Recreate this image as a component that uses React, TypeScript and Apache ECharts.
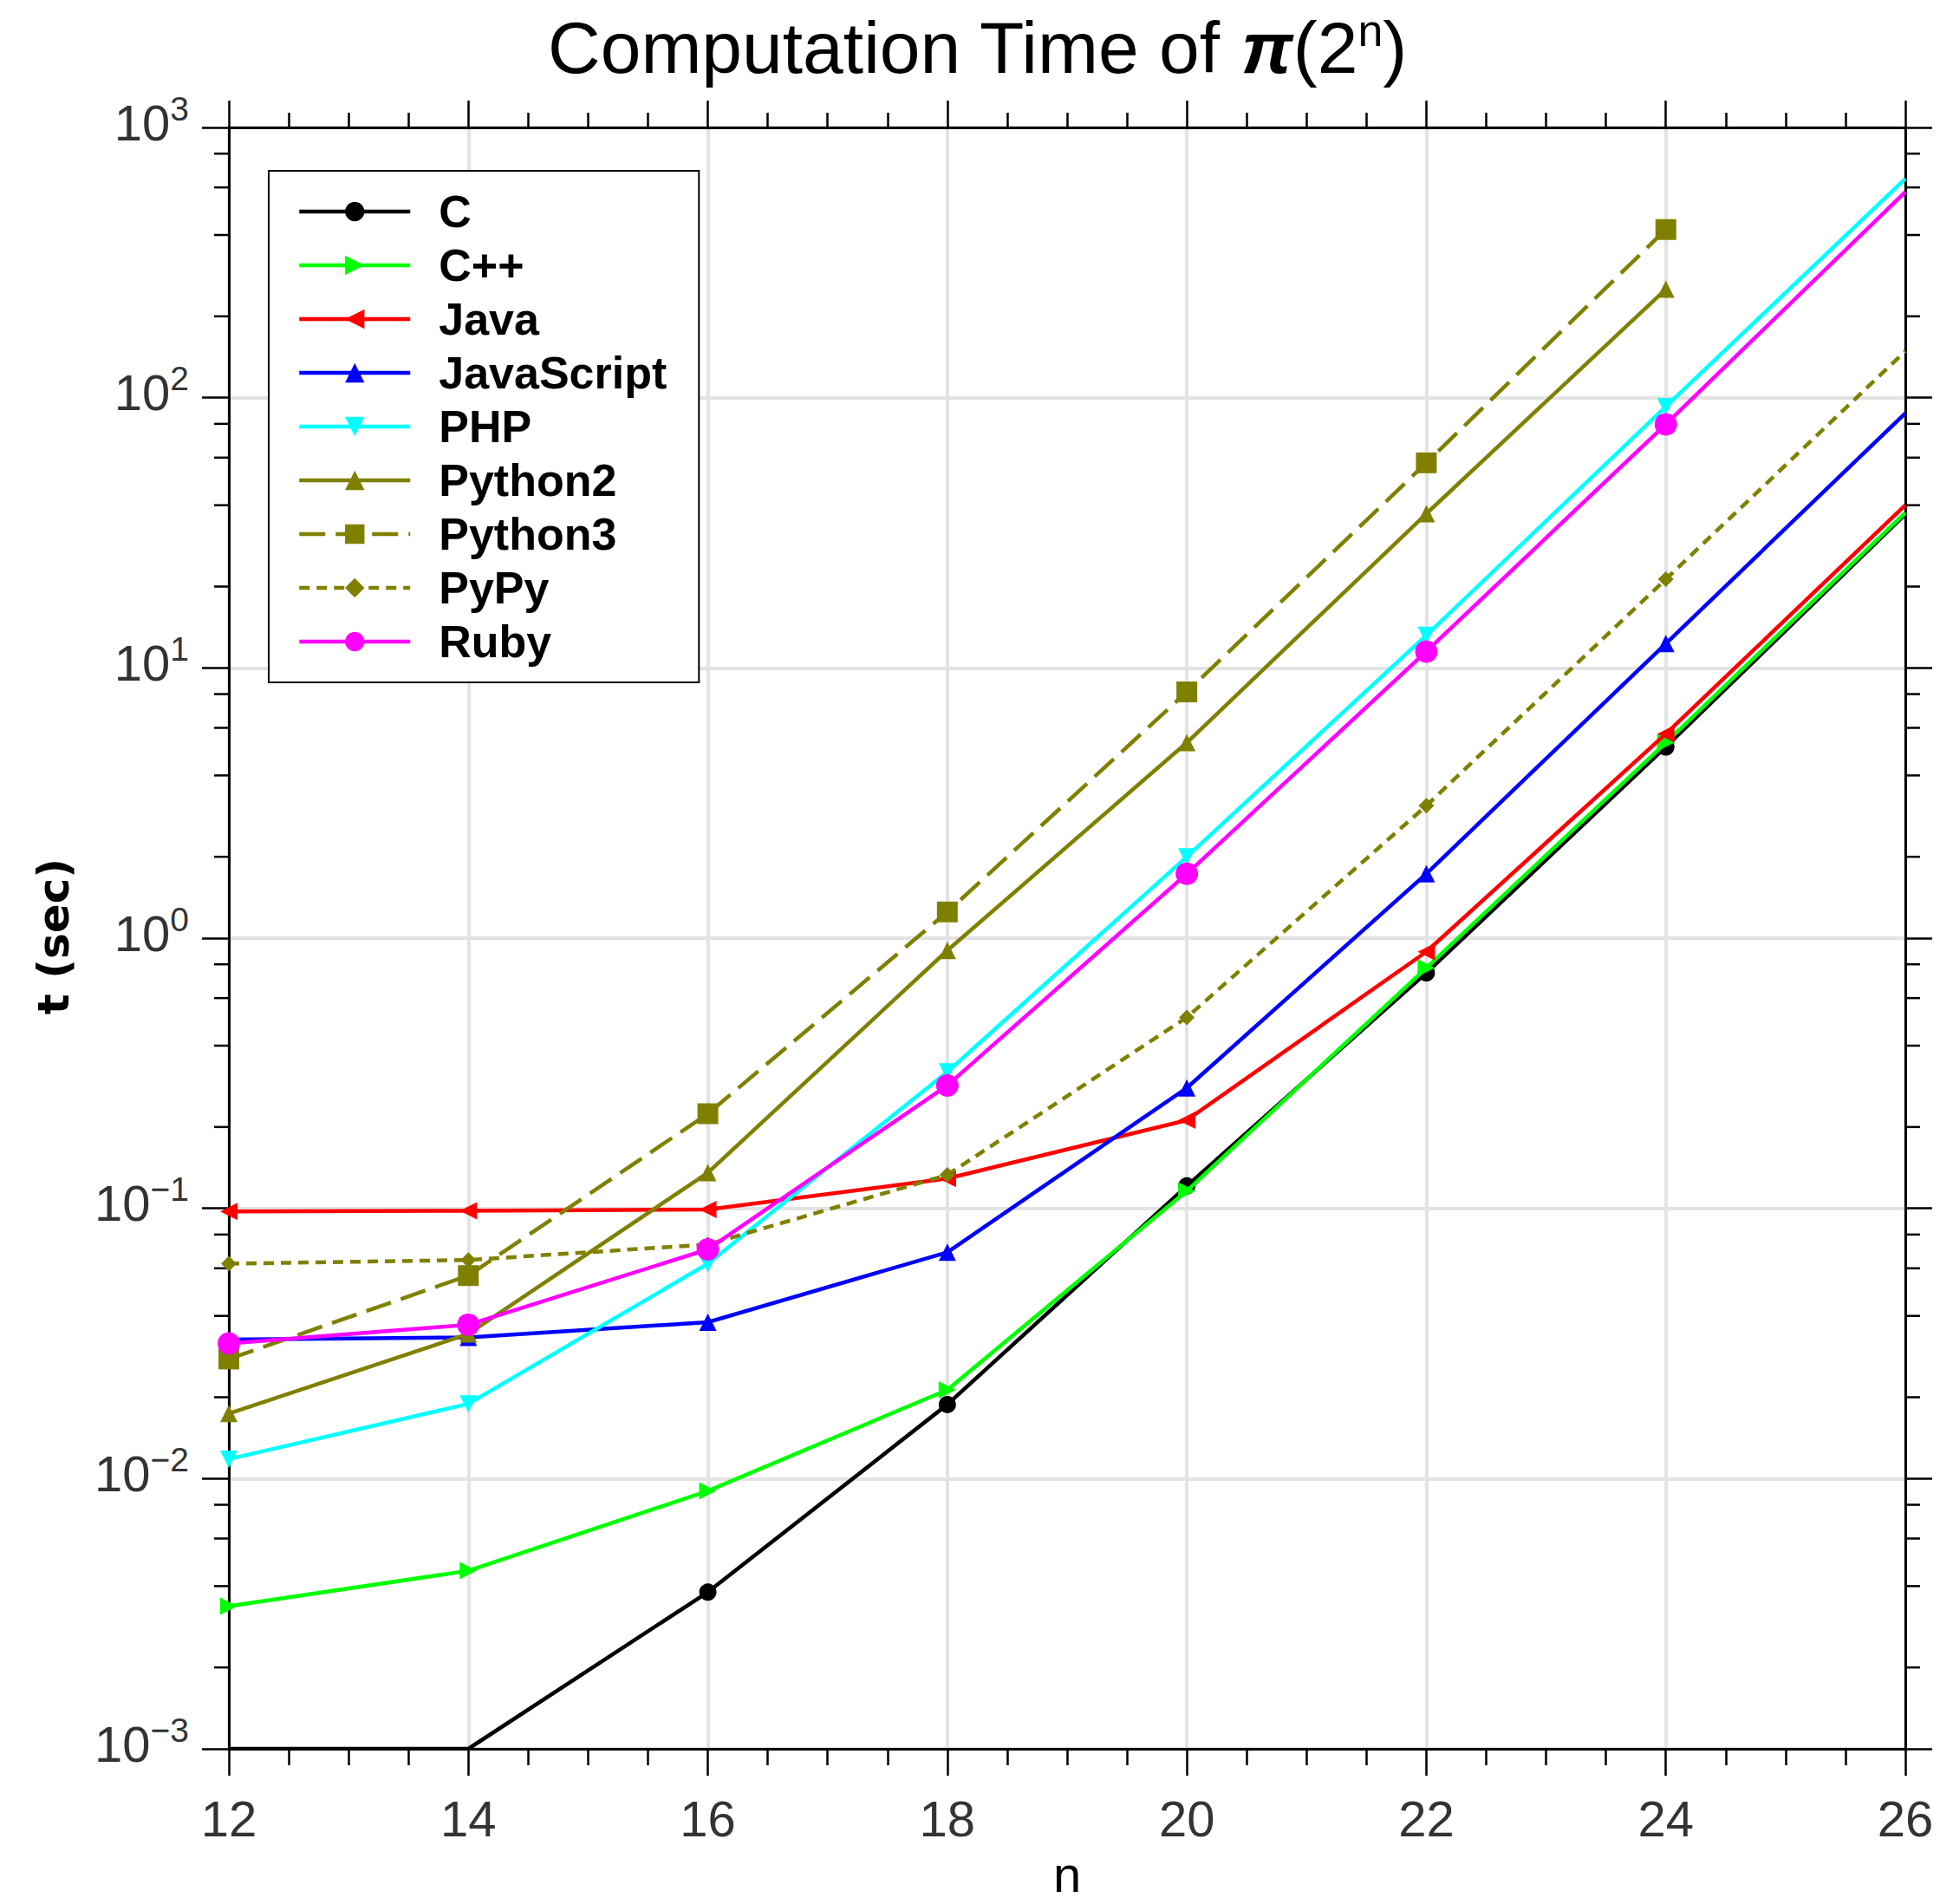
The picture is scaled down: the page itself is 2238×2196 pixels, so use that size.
import React, { useEffect, useRef } from "react";
import * as echarts from "echarts";

// ---------------- data ----------------
const nValues = [12, 14, 16, 18, 20, 22, 24, 26];

const cTimes = [0.001, 0.001, 0.0038, 0.0188, 0.121, 0.744, 5.1, 37];
const cppTimes = [0.00337, 0.00456, 0.009, 0.0213, 0.116, 0.776, 5.29, 37.5];
const javaTimes = [0.0974, 0.098, 0.099, 0.129, 0.212, 0.89, 5.7, 40];
const jsTimes = [0.0327, 0.0333, 0.0379, 0.0688, 0.279, 1.73, 12.3, 87.6];
const phpTimes = [0.0118, 0.0189, 0.0624, 0.32, 2.0, 13.2, 92.7, 646];
const python2Times = [0.0174, 0.0343, 0.1355, 0.9, 5.29, 37.2, 252, null];
const python3Times = [0.0277, 0.0564, 0.224, 1.25, 8.15, 57.4, 419, null];
const pypyTimes = [0.0624, 0.0644, 0.0735, 0.133, 0.509, 3.09, 21.3, 148.6];
const rubyTimes = [0.0316, 0.0371, 0.0705, 0.285, 1.73, 11.5, 79.7, 577];

const seriesNames = ["C", "C++", "Java", "JavaScript", "PHP", "Python2", "Python3", "PyPy", "Ruby"];

const xTickLabels = ["12", "14", "16", "18", "20", "22", "24", "26"];
const yDecadeExponents = [-3, -2, -1, 0, 1, 2, 3];
const yExponentLabels = ["−3", "−2", "−1", "0", "1", "2", "3"];
const yMinorMultipliers = [2, 4, 6, 8];

const titleText = "Computation Time of ";

// ---------------- styling ----------------
const NARROW = "'Liberation Sans Narrow', 'Liberation Sans', Arial, sans-serif";
const SANS = "'Liberation Sans', Arial, sans-serif";

const X_MIN = 12;
const X_MAX = 26;
const Y_MIN = 0.001;
const Y_MAX = 1000;

type Spec = {
  name: string;
  values: (number | null)[];
  color: string;
  symbol: string;
  size: number;
  rotate: number;
  dash: any;
  hideAt: number[];
};

const specs: Spec[] = [
  { name: "C", values: cTimes, color: "#000000", symbol: "circle", size: 20, rotate: 0, dash: "solid", hideAt: [12, 14, 26] },
  { name: "C++", values: cppTimes, color: "#00ff00", symbol: "triangle", size: 20, rotate: -90, dash: "solid", hideAt: [26] },
  { name: "Java", values: javaTimes, color: "#ff0000", symbol: "triangle", size: 20, rotate: 90, dash: "solid", hideAt: [26] },
  { name: "JavaScript", values: jsTimes, color: "#0000ff", symbol: "triangle", size: 20, rotate: 0, dash: "solid", hideAt: [26] },
  { name: "PHP", values: phpTimes, color: "#00ffff", symbol: "triangle", size: 20, rotate: 180, dash: "solid", hideAt: [26] },
  { name: "Python2", values: python2Times, color: "#808000", symbol: "triangle", size: 20, rotate: 0, dash: "solid", hideAt: [26] },
  { name: "Python3", values: python3Times, color: "#808000", symbol: "rect", size: 24, rotate: 0, dash: [30, 12], hideAt: [26] },
  { name: "PyPy", values: pypyTimes, color: "#808000", symbol: "diamond", size: 18, rotate: 0, dash: [12, 8], hideAt: [26] },
  { name: "Ruby", values: rubyTimes, color: "#ff00ff", symbol: "circle", size: 26, rotate: 0, dash: "solid", hideAt: [26] },
];

function buildLineSeries(s: Spec, idx: number) {
  const data: any[] = [];
  nValues.forEach((n, i) => {
    const v = s.values[i];
    if (v == null) return;
    if (s.hideAt.indexOf(n) >= 0) data.push({ value: [n, v], symbol: "none" });
    else data.push({ value: [n, v] });
  });
  return {
    type: "line",
    name: s.name,
    data,
    symbol: s.symbol,
    symbolSize: s.size,
    symbolRotate: s.rotate,
    showSymbol: true,
    showAllSymbol: true,
    clip: true,
    z: 3 + idx,
    lineStyle: { color: s.color, width: 4.5, type: s.dash },
    itemStyle: { color: s.color },
    emphasis: { disabled: true },
  };
}

const yMinorTicks: number[] = [];
yDecadeExponents.slice(0, -1).forEach((e) => {
  yMinorMultipliers.forEach((m) => yMinorTicks.push(m * Math.pow(10, e)));
});

export default function App() {
  const ref = useRef<HTMLDivElement>(null);

  useEffect(() => {
    document.body.style.margin = "0";
    document.body.style.overflow = "hidden";
    if (!ref.current) return;
    const chart = echarts.init(ref.current, null, { renderer: "svg" });

    const tickStyle = { color: "#000", width: 2.5 };

    const option: any = {
      animation: false,
      backgroundColor: "#ffffff",
      title: {
        left: 632,
        top: 9,
        padding: 0,
        text: "{a|" + titleText + "}{pi|π}{a|(2}{sup|n}{a|)}",
        textStyle: {
          fontSize: 84,
          fontWeight: "normal",
          fontFamily: SANS,
          color: "#000",
          rich: {
            a: { fontSize: 84, fontWeight: "normal", fontFamily: SANS, color: "#000" },
            pi: { fontSize: 84, fontFamily: SANS, fontStyle: "italic", fontWeight: "bold", color: "#000" },
            sup: { fontSize: 52, fontWeight: "normal", fontFamily: SANS, color: "#000", verticalAlign: "top", padding: [0, 0, 40, 0] },
          },
        },
      },
      grid: { left: 264, right: 40, top: 147, bottom: 179, containLabel: false },
      legend: {
        orient: "vertical",
        left: 310,
        top: 197,
        padding: [21, 37, 21, 33],
        itemGap: 10,
        itemWidth: 128,
        itemHeight: 28,
        borderColor: "#000",
        borderWidth: 2,
        backgroundColor: "#fff",
        selectedMode: false,
        data: seriesNames,
        lineStyle: { width: 4.5 },
        textStyle: { fontFamily: SANS, fontWeight: "bold", fontSize: 52, color: "#000", padding: [0, 0, 0, 28] },
        z: 20,
      },
      xAxis: [
        {
          type: "value",
          min: X_MIN,
          max: X_MAX,
          interval: 2,
          position: "bottom",
          axisLine: { show: true, onZero: false, lineStyle: { color: "#000", width: 3 } },
          axisTick: { show: true, length: 31, lineStyle: tickStyle },
          minorTick: { show: true, splitNumber: 4, length: 19, lineStyle: tickStyle },
          splitLine: { show: true, lineStyle: { color: "#e3e3e3", width: 4 } },
          axisLabel: {
            margin: 51,
            fontSize: 58,
            fontFamily: NARROW,
            color: "#333",
            formatter: (v: number) => xTickLabels[nValues.indexOf(v)] ?? String(v),
          },
        },
        {
          type: "value",
          min: X_MIN,
          max: X_MAX,
          interval: 2,
          position: "top",
          axisLine: { show: true, onZero: false, lineStyle: { color: "#000", width: 3 } },
          axisTick: { show: true, length: 31, lineStyle: tickStyle },
          minorTick: { show: true, splitNumber: 4, length: 17, lineStyle: tickStyle },
          splitLine: { show: false },
          axisLabel: { show: false },
        },
      ],
      yAxis: [
        {
          type: "log",
          logBase: 10,
          min: Y_MIN,
          max: Y_MAX,
          splitNumber: 6,
          position: "left",
          axisLine: { show: true, onZero: false, lineStyle: { color: "#000", width: 3 } },
          axisTick: { show: true, length: 31, lineStyle: tickStyle },
          splitLine: { show: true, lineStyle: { color: "#e3e3e3", width: 4 } },
          axisLabel: {
            margin: 46,
            formatter: (v: number) => {
              const e = Math.round(Math.log10(v));
              const idx = yDecadeExponents.indexOf(e);
              const lab = idx >= 0 ? yExponentLabels[idx] : String(e);
              return "{b|10}{s|" + lab + "}";
            },
            rich: {
              b: { fontSize: 58, fontFamily: NARROW, color: "#333", padding: [0, 0, 12, 0] },
              s: { fontSize: 39, fontFamily: NARROW, color: "#333", verticalAlign: "top", padding: [0, 0, 44, 0] },
            },
          },
        },
        {
          type: "log",
          logBase: 10,
          min: Y_MIN,
          max: Y_MAX,
          splitNumber: 6,
          position: "right",
          axisLine: { show: true, onZero: false, lineStyle: { color: "#000", width: 3 } },
          axisTick: { show: true, length: 31, lineStyle: tickStyle },
          splitLine: { show: false },
          axisLabel: { show: false },
        },
      ],
      graphic: [
        {
          type: "text",
          x: 62,
          y: 1080,
          rotation: Math.PI / 2,
          style: {
            text: "t (sec)",
            font: "bold 50px 'DejaVu Sans'",
            fill: "#000",
            align: "center",
            verticalAlign: "middle",
          },
        },
        {
          type: "text",
          x: 1231,
          y: 2161,
          style: {
            text: "n",
            font: "58px 'Liberation Sans'",
            fill: "#000",
            align: "center",
            verticalAlign: "middle",
          },
        },
      ],
      series: [
        ...specs.map((s, i) => buildLineSeries(s, i)),
        {
          type: "custom",
          name: "yMinorTicks",
          xAxisIndex: 0,
          yAxisIndex: 0,
          clip: false,
          silent: true,
          z: 2,
          encode: { x: 0, y: 1 },
          data: yMinorTicks.map((v) => [X_MIN, v]),
          renderItem: (params: any, api: any) => {
            const y = api.value(1);
            const pL = api.coord([X_MIN, y]);
            const pR = api.coord([X_MAX, y]);
            return {
              type: "group",
              children: [
                { type: "line", shape: { x1: pL[0] - 17, y1: pL[1], x2: pL[0], y2: pL[1] }, style: { stroke: "#000", lineWidth: 2.5 } },
                { type: "line", shape: { x1: pR[0], y1: pR[1], x2: pR[0] + 17, y2: pR[1] }, style: { stroke: "#000", lineWidth: 2.5 } },
              ],
            };
          },
        },
      ],
    };

    chart.setOption(option);
    return () => chart.dispose();
  }, []);

  return <div ref={ref} style={{ width: 2238, height: 2196 }} />;
}
